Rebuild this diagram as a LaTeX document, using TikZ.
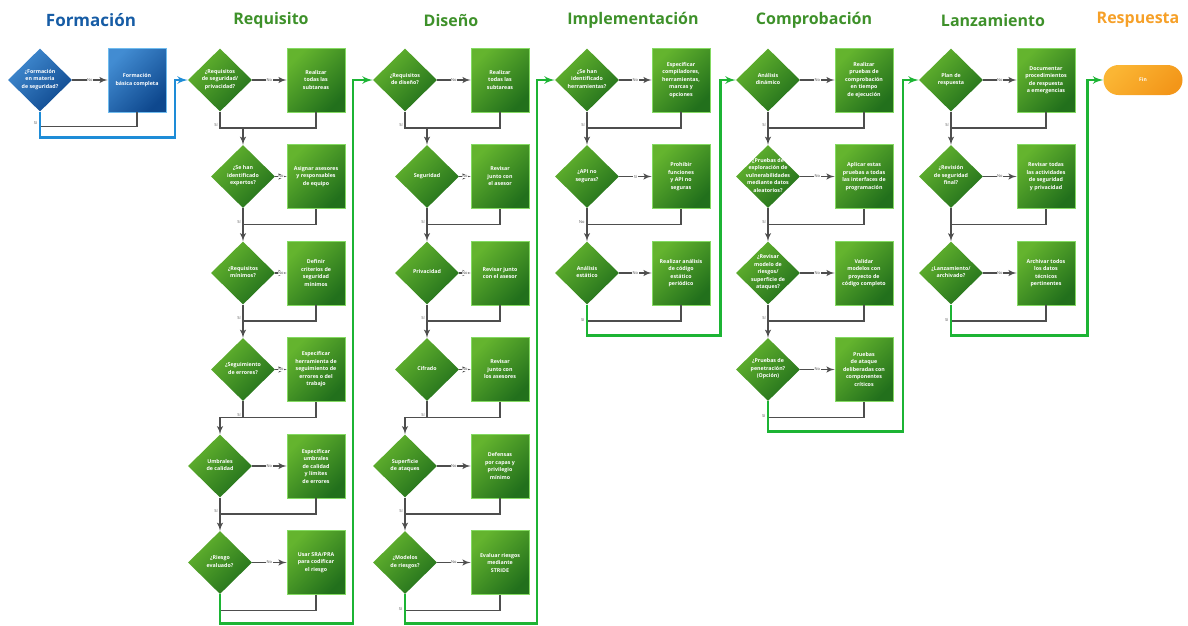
\documentclass[tikz,border=0pt]{standalone}
\usepackage{fontspec}
\setmainfont{Open Sans}
\usepackage{tikz}
\usetikzlibrary{arrows, shapes}

\definecolor{grnlight}{RGB}{100,180,46}
\definecolor{grndark}{RGB}{34,112,28}
\definecolor{grnedge}{RGB}{132,218,98}
\definecolor{grntitle}{RGB}{62,145,42}
\definecolor{grnflow}{RGB}{28,180,52}
\definecolor{blulight}{RGB}{66,140,210}
\definecolor{bludark}{RGB}{14,72,142}
\definecolor{bluedge}{RGB}{112,188,238}
\definecolor{blutitle}{RGB}{22,92,165}
\definecolor{bluflow}{RGB}{30,140,215}
\definecolor{orglight}{RGB}{251,182,52}
\definecolor{orgdark}{RGB}{243,150,25}
\definecolor{orgtitle}{RGB}{246,160,40}
\definecolor{conn}{RGB}{78,78,78}

\newcommand{\qtxt}[1]{\raisebox{-1.3pt}{\smash{\begin{tabular}{@{}c@{}}#1\end{tabular}}}}

\begin{document}
\begin{tikzpicture}[x=1pt, y=-1pt, node distance=96.5pt]
\tikzstyle{decision} = [diamond, top color=grnlight, bottom color=grndark, shading angle=45,
    text=white, font=\fontsize{5.3}{7.5}\selectfont\bfseries,
    minimum width=64pt, minimum height=63pt, inner sep=0pt]
\tikzstyle{block} = [rectangle, draw=grnedge, line width=0.8pt,
    top color=grnlight, bottom color=grndark, shading angle=45,
    text=white, font=\fontsize{5.3}{7.5}\selectfont\bfseries, align=center,
    minimum width=58pt, minimum height=64pt, inner sep=1pt]
\tikzstyle{bdecision} = [decision, top color=blulight, bottom color=bludark, shading angle=45]
\tikzstyle{bblock} = [block, draw=bluedge, top color=blulight, bottom color=bludark, shading angle=45]
\tikzstyle{endnode} = [rectangle, rounded corners=15pt, top color=orglight, bottom color=orgdark,
    shading angle=45, text=white, font=\fontsize{5}{6}\selectfont\bfseries,
    minimum width=79pt, minimum height=30pt]
\tikzstyle{phase} = [font=\fontsize{16}{19}\selectfont\bfseries, text=grntitle]
\tikzstyle{flow} = [draw=conn, line width=1.8pt]
\tikzstyle{line} = [flow, -latex']
\tikzstyle{gline} = [draw=grnflow, line width=2.6pt, -latex']
\tikzstyle{bline} = [draw=bluflow, line width=2.6pt, -latex']
\tikzstyle{lbl} = [font=\fontsize{4}{4}\selectfont, text=conn, fill=white, inner sep=0.5pt]

\useasboundingbox (0,0) rectangle (1188,625);

 \node [phase, text=blutitle, font=\fontsize{17}{20}\selectfont\bfseries] (tform) at (91,20) {Formación};
 \node [phase, right of=tform, node distance=180pt] (treq) {Requisito};
 \node [phase, right of=treq, node distance=180pt] (tdis) {Diseño};
 \node [phase, right of=tdis, node distance=182pt] (timp) {Implementación};
 \node [phase, right of=timp, node distance=181pt] (tcom) {Comprobación};
 \node [phase, right of=tcom, node distance=179pt] (tlan) {Lanzamiento};
 \node [phase, right of=tlan, node distance=145pt, text=orgtitle] (tres) {Respuesta};

 \node [bdecision] (forq) at (40,80) {\qtxt{¿Formación\\en materia\\de seguridad?}};
 \node [bblock, right of=forq, node distance=97pt] (fora) {Formación\\básica completa};

 \node [decision] (reqq1) at (220,80) {\qtxt{¿Requisitos\\de seguridad/\\privacidad?}};
 \node [decision, below of=reqq1, xshift=23pt] (reqq2) {\qtxt{¿Se han\\identificado\\expertos?}};
 \node [decision, below of=reqq2] (reqq3) {\qtxt{¿Requisitos\\mínimos?}};
 \node [decision, below of=reqq3] (reqq4) {\qtxt{¿Seguimiento\\de errores?}};
 \node [decision, below of=reqq4, xshift=-23pt] (reqq5) {\qtxt{Umbrales\\de calidad}};
 \node [decision, below of=reqq5] (reqq6) {\qtxt{¿Riesgo\\evaluado?}};
 \node [block, right of=reqq1, node distance=96pt] (reqa1) {Realizar\\todas las\\subtareas};
 \node [block, below of=reqa1] (reqa2) {Asignar asesores\\y responsables\\de equipo};
 \node [block, below of=reqa2] (reqa3) {Definir\\criterios de\\seguridad\\mínimos};
 \node [block, below of=reqa3] (reqa4) {Especificar\\herramienta de\\seguimiento de\\errores o del\\trabajo};
 \node [block, below of=reqa4] (reqa5) {Especificar\\umbrales\\de calidad\\y límites\\de errores};
 \node [block, below of=reqa5] (reqa6) {Usar SRA/PRA\\para codificar\\el riesgo};

 \node [decision] (disq1) at (405,80) {\qtxt{¿Requisitos\\de diseño?}};
 \node [decision, below of=disq1, xshift=22pt] (disq2) {\qtxt{Seguridad}};
 \node [decision, below of=disq2] (disq3) {\qtxt{Privacidad}};
 \node [decision, below of=disq3] (disq4) {\qtxt{Cifrado}};
 \node [decision, below of=disq4, xshift=-22pt] (disq5) {\qtxt{Superficie\\de ataques}};
 \node [decision, below of=disq5] (disq6) {\qtxt{¿Modelos\\de riesgos?}};
 \node [block, right of=disq1, node distance=95pt] (disa1) {Realizar\\todas las\\subtareas};
 \node [block, below of=disa1] (disa2) {Revisar\\junto con\\el asesor};
 \node [block, below of=disa2] (disa3) {Revisar junto\\con el asesor};
 \node [block, below of=disa3] (disa4) {Revisar\\junto con\\los asesores};
 \node [block, below of=disa4] (disa5) {Defensas\\por capas y\\privilegio\\mínimo};
 \node [block, below of=disa5] (disa6) {Evaluar riesgos\\mediante\\STRIDE};

 \node [decision] (impq1) at (587,80) {\qtxt{¿Se han\\identificado\\herramientas?}};
 \node [decision, below of=impq1] (impq2) {\qtxt{¿API no\\seguras?}};
 \node [decision, below of=impq2] (impq3) {\qtxt{Análisis\\estático}};
 \node [block, right of=impq1, node distance=94pt] (impa1) {Especificar\\compiladores,\\herramientas,\\marcas y\\opciones};
 \node [block, below of=impa1] (impa2) {Prohibir\\funciones\\y API no\\seguras};
 \node [block, below of=impa2] (impa3) {Realizar análisis\\de código\\estático\\periódico};

 \node [decision] (comq1) at (768,80) {\qtxt{Análisis\\dinámico}};
 \node [decision, below of=comq1] (comq2) {\qtxt{¿Pruebas de\\exploración de\\vulnerabilidades\\mediante datos\\aleatorios?}};
 \node [decision, below of=comq2] (comq3) {\qtxt{¿Revisar\\modelo de\\riesgos/\\superficie de\\ataques?}};
 \node [decision, below of=comq3] (comq4) {\qtxt{¿Pruebas de\\penetración?\\(Opción)}};
 \node [block, right of=comq1, node distance=96pt] (coma1) {Realizar\\pruebas de\\comprobación\\en tiempo\\de ejecución};
 \node [block, below of=coma1] (coma2) {Aplicar estas\\pruebas a todas\\las interfaces de\\programación};
 \node [block, below of=coma2] (coma3) {Validar\\modelos con\\proyecto de\\código completo};
 \node [block, below of=coma3] (coma4) {Pruebas\\de ataque\\deliberadas con\\componentes\\críticos};

 \node [decision] (lanq1) at (951,80) {\qtxt{Plan de\\respuesta}};
 \node [decision, below of=lanq1] (lanq2) {\qtxt{¿Revisión\\de seguridad\\final?}};
 \node [decision, below of=lanq2] (lanq3) {\qtxt{¿Lanzamiento/\\archivado?}};
 \node [block, right of=lanq1, node distance=95pt] (lana1) {Documentar\\procedimientos\\de respuesta\\a emergencias};
 \node [block, below of=lana1] (lana2) {Revisar todas\\las actividades\\de seguridad\\y privacidad};
 \node [block, below of=lana2] (lana3) {Archivar todos\\los datos\\técnicos\\pertinentes};

 \node [endnode] (fin) at (1143,80) {Fin};

 % Formacion
 \path [line] (forq) -- node [lbl] {No} (fora);
 \draw [flow] (fora.south) -- ++(0,14) -| (forq.south);
 \draw [bline] (forq.south) -- node [lbl, left=1pt, pos=0.45] {Sí} ++(0,26) -| ([xshift=-13pt]reqq1.west) -- (reqq1.west);

 % Requisito
 \path [line] (reqq1) -- node [lbl] {No} (reqa1);
 \path [line] (reqq2) -- node [lbl] {No} (reqa2);
 \path [line] (reqq3) -- node [lbl] {No} (reqa3);
 \path [line] (reqq4) -- node [lbl] {No} (reqa4);
 \path [line] (reqq5) -- node [lbl] {No} (reqa5);
 \path [line] (reqq6) -- node [lbl] {No} (reqa6);
 \draw [flow] (reqa1.south) -- ++(0,15.5) coordinate (rm1) -| (reqq1.south);
 \draw [flow] (reqa2.south) -- ++(0,15.5) coordinate (rm2) -| (reqq2.south);
 \draw [flow] (reqa3.south) -- ++(0,15.5) coordinate (rm3) -| (reqq3.south);
 \draw [flow] (reqa4.south) -- ++(0,15.5) coordinate (rm4) -| (reqq4.south);
 \draw [flow] (reqa5.south) -- ++(0,15.5) coordinate (rm5) -| (reqq5.south);
 \draw [flow] (reqa6.south) -- ++(0,15.5) -| (reqq6.south);
 \path [line] (reqq1.south) |- node [lbl, left=1pt, pos=0.42] {Sí} (rm1 -| reqq2.north) -- (reqq2.north);
 \path [line] (reqq2.south) |- node [lbl, left=1pt, pos=0.42] {Sí} (rm2 -| reqq3.north) -- (reqq3.north);
 \path [line] (reqq3.south) |- node [lbl, left=1pt, pos=0.42] {Sí} (rm3 -| reqq4.north) -- (reqq4.north);
 \path [line] (reqq4.south) |- node [lbl, left=1pt, pos=0.42] {Sí} (rm4 -| reqq5.north) -- (reqq5.north);
 \path [line] (reqq5.south) |- node [lbl, left=1pt, pos=0.42] {Sí} (rm5 -| reqq6.north) -- (reqq6.north);
 \draw [gline] (reqq6.south) -- ++(0,29) -| ([xshift=-20pt]disq1.west) -- (disq1.west);

 % Diseno
 \path [line] (disq1) -- node [lbl] {No} (disa1);
 \path [line] (disq2) -- node [lbl] {No} (disa2);
 \path [line] (disq3) -- node [lbl] {No} (disa3);
 \path [line] (disq4) -- node [lbl] {No} (disa4);
 \path [line] (disq5) -- node [lbl] {No} (disa5);
 \path [line] (disq6) -- node [lbl] {No} (disa6);
 \draw [flow] (disa1.south) -- ++(0,15.5) coordinate (dm1) -| (disq1.south);
 \draw [flow] (disa2.south) -- ++(0,15.5) coordinate (dm2) -| (disq2.south);
 \draw [flow] (disa3.south) -- ++(0,15.5) coordinate (dm3) -| (disq3.south);
 \draw [flow] (disa4.south) -- ++(0,15.5) coordinate (dm4) -| (disq4.south);
 \draw [flow] (disa5.south) -- ++(0,15.5) coordinate (dm5) -| (disq5.south);
 \draw [flow] (disa6.south) -- ++(0,15.5) -| (disq6.south);
 \path [line] (disq1.south) |- node [lbl, left=1pt, pos=0.42] {Sí} (dm1 -| disq2.north) -- (disq2.north);
 \path [line] (disq2.south) |- node [lbl, left=1pt, pos=0.42] {Sí} (dm2 -| disq3.north) -- (disq3.north);
 \path [line] (disq3.south) |- node [lbl, left=1pt, pos=0.42] {Sí} (dm3 -| disq4.north) -- (disq4.north);
 \path [line] (disq4.south) |- node [lbl, left=1pt, pos=0.42] {Sí} (dm4 -| disq5.north) -- (disq5.north);
 \path [line] (disq5.south) |- node [lbl, left=1pt, pos=0.42] {Sí} (dm5 -| disq6.north) -- (disq6.north);
 \draw [gline] (disq6.south) -- node [lbl, left=1pt, pos=0.5] {Sí} ++(0,29) -| ([xshift=-18pt]impq1.west) -- (impq1.west);

 % Implementacion
 \path [line] (impq1) -- node [lbl] {No} (impa1);
 \path [line] (impq2) -- node [lbl] {Sí} (impa2);
 \path [line] (impq3) -- node [lbl] {No} (impa3);
 \draw [flow] (impa1.south) -- ++(0,15.5) coordinate (im1) -| (impq1.south);
 \draw [flow] (impa2.south) -- ++(0,15.5) coordinate (im2) -| (impq2.south);
 \draw [flow] (impa3.south) -- ++(0,15.5) -| (impq3.south);
 \path [line] (impq1.south) |- node [lbl, left=1pt, pos=0.42] {Sí} (im1 -| impq2.north) -- (impq2.north);
 \path [line] (impq2.south) |- node [lbl, left=1pt, pos=0.42] {No} (im2 -| impq3.north) -- (impq3.north);
 \draw [gline] (impq3.south) -- node [lbl, left=1pt, pos=0.5] {Sí} ++(0,30.5) -| ([xshift=-15.5pt]comq1.west) -- (comq1.west);

 % Comprobacion
 \path [line] (comq1) -- node [lbl] {No} (coma1);
 \path [line] (comq2) -- node [lbl] {No} (coma2);
 \path [line] (comq3) -- node [lbl] {No} (coma3);
 \path [line] (comq4) -- node [lbl] {No} (coma4);
 \draw [flow] (coma1.south) -- ++(0,15.5) coordinate (cm1) -| (comq1.south);
 \draw [flow] (coma2.south) -- ++(0,15.5) coordinate (cm2) -| (comq2.south);
 \draw [flow] (coma3.south) -- ++(0,15.5) coordinate (cm3) -| (comq3.south);
 \draw [flow] (coma4.south) -- ++(0,15.5) -| (comq4.south);
 \path [line] (comq1.south) |- node [lbl, left=1pt, pos=0.42] {Sí} (cm1 -| comq2.north) -- (comq2.north);
 \path [line] (comq2.south) |- node [lbl, left=1pt, pos=0.42] {Sí} (cm2 -| comq3.north) -- (comq3.north);
 \path [line] (comq3.south) |- node [lbl, left=1pt, pos=0.42] {Sí} (cm3 -| comq4.north) -- (comq4.north);
 \draw [gline] (comq4.south) -- node [lbl, left=1pt, pos=0.5] {Sí} ++(0,30) -| ([xshift=-16pt]lanq1.west) -- (lanq1.west);

 % Lanzamiento
 \path [line] (lanq1) -- node [lbl] {No} (lana1);
 \path [line] (lanq2) -- node [lbl] {No} (lana2);
 \path [line] (lanq3) -- node [lbl] {No} (lana3);
 \draw [flow] (lana1.south) -- ++(0,15.5) coordinate (lm1) -| (lanq1.south);
 \draw [flow] (lana2.south) -- ++(0,15.5) coordinate (lm2) -| (lanq2.south);
 \draw [flow] (lana3.south) -- ++(0,15.5) -| (lanq3.south);
 \path [line] (lanq1.south) |- node [lbl, left=1pt, pos=0.42] {Sí} (lm1 -| lanq2.north) -- (lanq2.north);
 \path [line] (lanq2.south) |- (lm2 -| lanq3.north) -- (lanq3.north);
 \draw [gline] (lanq3.south) -- node [lbl, left=1pt, pos=0.5] {Sí} ++(0,30.5) -| ([xshift=-16pt]fin.west) -- (fin.west);
\end{tikzpicture}
\end{document}
